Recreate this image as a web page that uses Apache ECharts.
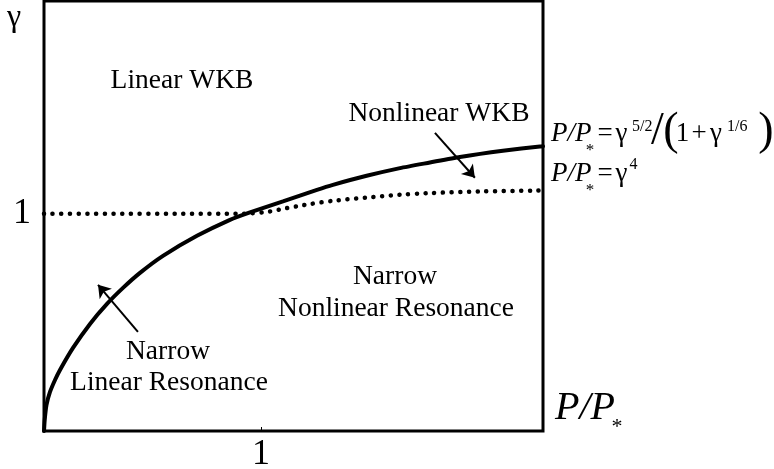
<!DOCTYPE html>
<html>
<head>
<meta charset="utf-8">
<script src="https://cdn.jsdelivr.net/npm/echarts@6/dist/echarts.min.js"></script>
<style>html,body{margin:0;padding:0;background:#fff}#c{width:774px;height:469px}</style>
</head>
<body>
<div id="c"></div>
<script>
// Solid curve: P/P* = gamma^{5/2}/(1+gamma^{1/6})
var solidP =     [0, 0.0032, 0.0115, 0.0276, 0.0507, 0.0737, 0.1336, 0.2120, 0.2903, 0.3641, 0.4424, 0.5484, 0.7051, 0.8571, 0.9493, 1.1014, 1.2581, 1.3318, 1.4871, 1.6406, 1.7788, 1.9171, 2.1152, 2.2857, 2.300];
var solidGamma = [0, 0.0507, 0.1198, 0.1797, 0.2350, 0.2811, 0.3825, 0.4931, 0.5853, 0.6590, 0.7281, 0.8065, 0.8986, 0.9724, 1.0069, 1.0576, 1.1106, 1.1336, 1.1751, 1.2106, 1.2364, 1.2618, 1.2903, 1.3101, 1.3115];
// Dotted curve: P/P* = gamma^4 (horizontal at gamma = 1, then rising)
var dottedP =     [0, 0.889, 0.949, 1.041, 1.118, 1.180, 1.226, 1.332, 1.487, 1.641, 1.764, 2.009, 2.270, 2.300];
var dottedGamma = [1, 1.000, 1.002, 1.011, 1.026, 1.037, 1.045, 1.060, 1.075, 1.088, 1.095, 1.103, 1.107, 1.108];
var xTicks = [1];
var yTicks = [1];
// Arrows [tailP, tailGamma, tipP, tipGamma]
var arrowWKB = [1.802, 1.373, 1.986, 1.166];
var arrowLinRes = [0.433, 0.456, 0.249, 0.673];

function pairs(a, b) { return a.map(function (v, i) { return [v, b[i]]; }); }
var FF = '"Liberation Serif", "Times New Roman", serif';
function t(text, x, y, size, opt) {
  opt = opt || {};
  return {
    type: 'text', x: x, y: y, z: 10,
    style: {
      text: text, fill: '#000', fontSize: size, fontFamily: FF,
      fontStyle: opt.italic ? 'italic' : 'normal',
      align: opt.align || 'center', verticalAlign: 'middle'
    }
  };
}
var LS = 27.5;
var graphics = [
  t('\u03b3', 14, 18, 32),
  t('Linear WKB', 182, 81, LS),
  t('Nonlinear WKB', 439, 114, LS),
  t('Narrow', 168, 352, LS),
  t('Linear Resonance', 169, 383, LS),
  t('Narrow', 395, 277, LS),
  t('Nonlinear Resonance', 396, 309, LS),
  // equation 1
  t('P/P', 551, 134, 27, {italic: true, align: 'left'}),
  t('*', 590, 151, 17),
  t('=', 605, 134, 27),
  t('\u03b3', 621.5, 134, 27),
  t('5/2', 632, 127, 16, {align: 'left'}),
  t('/', 657.5, 132, 46),
  t('(', 671, 132, 46),
  t('1', 682.5, 134, 27),
  t('+', 699, 134, 27),
  t('\u03b3', 716, 134, 27),
  t('1/6', 727, 127, 16, {align: 'left'}),
  t(')', 766, 132, 46),
  // equation 2
  t('P/P', 551, 174, 27, {italic: true, align: 'left'}),
  t('*', 590, 191, 17),
  t('=', 605, 174, 27),
  t('\u03b3', 621.5, 174, 27),
  t('4', 633.5, 165, 16),
  // axis title
  t('P/P', 555, 408, 40, {italic: true, align: 'left'}),
  t('*', 617, 427, 22)
];

var chart = echarts.init(document.getElementById('c'));
chart.setOption({
  animation: false,
  backgroundColor: '#fff',
  grid: { left: 44, top: 1, right: 231, bottom: 38, outerBoundsMode: 'none', containLabel: false, show: true, borderColor: '#000', borderWidth: 3, backgroundColor: 'transparent' },
  xAxis: {
    type: 'value', min: 0, max: 2.3,
    axisLine: { show: false }, splitLine: { show: false },
    axisTick: { show: true, inside: true, length: 4, customValues: xTicks, lineStyle: { color: '#000', width: 1 } },
    axisLabel: { show: true, customValues: xTicks, margin: 6, fontSize: 36, fontFamily: FF, color: '#000' }
  },
  yAxis: {
    type: 'value', min: 0, max: 1.98,
    axisLine: { show: false }, splitLine: { show: false }, axisTick: { show: false },
    axisLabel: { show: true, customValues: yTicks, margin: 13, fontSize: 36, fontFamily: FF, color: '#000', padding: [0, 0, 10, 0] }
  },
  graphic: graphics,
  series: [
    {
      type: 'line', data: pairs(dottedP, dottedGamma), smooth: 0.3, symbol: 'none',
      lineStyle: { color: '#000', width: 4.5, type: [0.1, 8.6], cap: 'round' }, z: 3
    },
    {
      type: 'line', data: pairs(solidP, solidGamma), smooth: 0.2, symbol: 'none',
      lineStyle: { color: '#000', width: 4, cap: 'round' }, z: 4,
      markLine: {
        silent: true, symbol: ['none', 'arrow'], symbolSize: 12,
        label: { show: false },
        lineStyle: { color: '#000', width: 2, type: 'solid' },
        data: [
          [{ coord: [arrowWKB[0], arrowWKB[1]] }, { coord: [arrowWKB[2], arrowWKB[3]] }],
          [{ coord: [arrowLinRes[0], arrowLinRes[1]] }, { coord: [arrowLinRes[2], arrowLinRes[3]] }]
        ]
      }
    }
  ]
});
</script>
</body>
</html>
